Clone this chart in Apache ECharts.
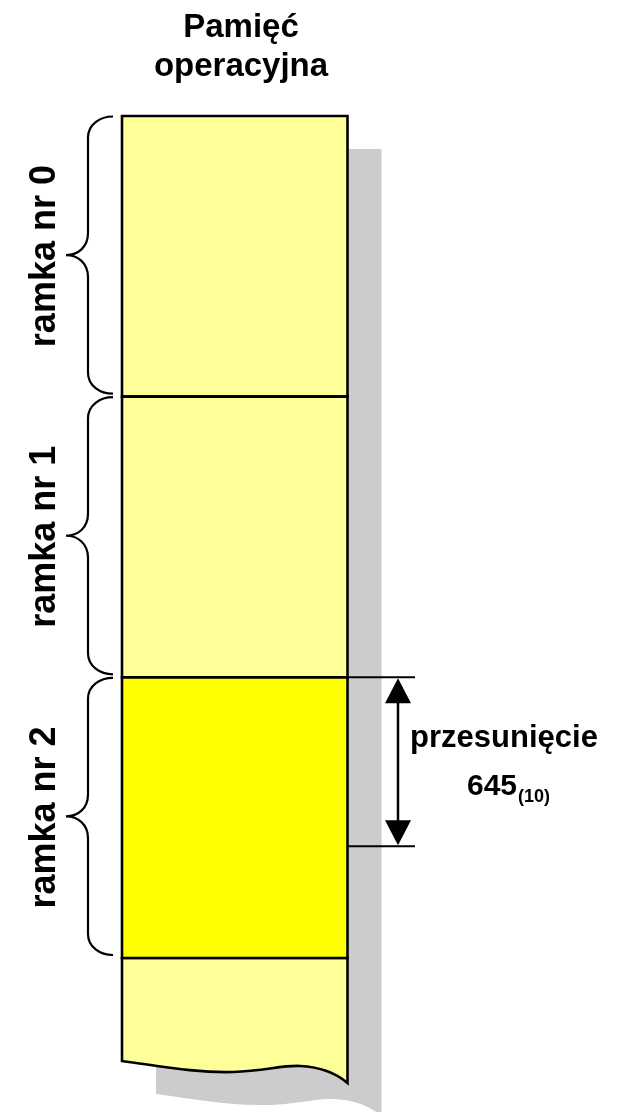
<!DOCTYPE html>
<html><head><meta charset="utf-8">
<script src="https://cdn.jsdelivr.net/npm/echarts@6/dist/echarts.min.js"></script>
<style>html,body{margin:0;padding:0;background:#fff}#c{width:621px;height:1112px}</style>
</head><body><div id="c"></div>
<script>
// ---- data (memory measured in frame units) ----
const titleLines = ['Pamięć', 'operacyjna'];
const frameLabels = ['ramka nr 0', 'ramka nr 1', 'ramka nr 2'];
const frameBounds = [0, 1, 2, 3];
const tailEnd = 3.367;            // visible memory past the last frame
const highlightFrame = 2;
const offsetLabel = 'przesunięcie';
const offsetValue = '645';
const offsetBase = '(10)';
const offsetRange = [0, 0.602];   // offset within highlighted frame (fraction of frame)

// ---- layout / style ----
const FONT = '"Liberation Sans", Arial, sans-serif';
const X0 = 122, X1 = 347.5;
const PX_TOP = 116, PX_FRAME = 280.67, H = 1112;
const yMin = -PX_TOP / PX_FRAME, yMax = (H - PX_TOP) / PX_FRAME;
const SH = [34, 33];

function wave(yb, dx, dy) {
  const p = (x, y) => (x + dx).toFixed(1) + ',' + (y + dy).toFixed(1);
  return ' L' + p(X0, yb) +
    ' C' + p(160, yb + 5) + ' ' + p(195, yb + 12) + ' ' + p(233, yb + 11) +
    ' C' + p(265, yb + 10) + ' ' + p(282, yb + 4) + ' ' + p(300, yb + 5) +
    ' C' + p(320, yb + 6) + ' ' + p(336, yb + 12) + ' ' + p(X1, yb + 22);
}

const chart = echarts.init(document.getElementById('c'));
chart.setOption({
  animation: false,
  backgroundColor: '#fff',
  title: {
    text: titleLines.join('\n'), left: 236, top: 3, textAlign: 'center',
    textStyle: { fontFamily: FONT, fontWeight: 'bold', fontSize: 33, lineHeight: 39, color: '#000' }
  },
  grid: { left: 0, right: 0, top: 0, bottom: 0 },
  xAxis: { type: 'value', min: 0, max: 621, show: false },
  yAxis: { type: 'value', min: yMin, max: yMax, inverse: true, show: false },
  series: [
    { // shadow
      type: 'custom', clip: false, z: 1, data: [[0, tailEnd]],
      renderItem: (params, api) => {
        const top = api.coord([X0, frameBounds[0]])[1];
        const yb = api.coord([X0, api.value(1)])[1];
        const d = 'M' + (X0 + SH[0]) + ',' + (top + SH[1]) + wave(yb, SH[0], SH[1]) +
          ' L' + (X1 + SH[0]) + ',' + (top + SH[1]) + ' Z';
        return { type: 'path', shape: { pathData: d }, style: { fill: '#CCCCCC', stroke: null } };
      }
    },
    { // tail below last frame
      type: 'custom', clip: false, z: 2, data: [[frameBounds[frameBounds.length - 1], tailEnd]],
      renderItem: (params, api) => {
        const top = api.coord([X0, api.value(0)])[1];
        const yb = api.coord([X0, api.value(1)])[1];
        const d = 'M' + X0 + ',' + top + wave(yb, 0, 0) + ' L' + X1 + ',' + top + ' Z';
        return { type: 'path', shape: { pathData: d }, style: { fill: '#FFFF99', stroke: '#000', lineWidth: 2.6, lineJoin: 'miter' } };
      }
    },
    { // frames
      type: 'custom', clip: false, z: 3,
      data: frameLabels.map((l, i) => [frameBounds[i], frameBounds[i + 1], i]),
      renderItem: (params, api) => {
        const a = api.coord([X0, api.value(0)]);
        const b = api.coord([X1, api.value(1)]);
        return { type: 'rect', shape: { x: a[0], y: a[1], width: b[0] - a[0], height: b[1] - a[1] },
          style: { fill: api.value(2) === highlightFrame ? '#FFFF00' : '#FFFF99', stroke: '#000', lineWidth: 2.6 } };
      }
    },
    { // braces + labels
      type: 'custom', clip: false, z: 3,
      data: frameLabels.map((l, i) => [frameBounds[i], frameBounds[i + 1]]),
      renderItem: (params, api) => {
        const T = api.coord([X0, api.value(0)])[1] + 0.5;
        const B = api.coord([X0, api.value(1)])[1] - 3;
        const M = (T + B) / 2;
        const xe = 113, xb = 88, xt = 66;
        const d = 'M' + xe + ',' + T +
          ' C' + (xb + 12) + ',' + T + ' ' + xb + ',' + (T + 8) + ' ' + xb + ',' + (T + 21) +
          ' L' + xb + ',' + (M - 22) +
          ' C' + xb + ',' + (M - 8) + ' ' + (xt + 12) + ',' + M + ' ' + xt + ',' + M +
          ' C' + (xt + 12) + ',' + M + ' ' + xb + ',' + (M + 8) + ' ' + xb + ',' + (M + 22) +
          ' L' + xb + ',' + (B - 21) +
          ' C' + xb + ',' + (B - 8) + ' ' + (xb + 12) + ',' + B + ' ' + xe + ',' + B;
        return { type: 'group', children: [
          { type: 'path', shape: { pathData: d }, style: { fill: null, stroke: '#000', lineWidth: 2.2 } },
          { type: 'text', x: 45, y: M + 1, rotation: Math.PI / 2,
            style: { text: frameLabels[params.dataIndex], font: 'bold 36px ' + FONT, fill: '#000', align: 'center', verticalAlign: 'middle' } }
        ] };
      }
    },
    { // offset arrow
      type: 'custom', clip: false, z: 4,
      data: [[frameBounds[highlightFrame] + offsetRange[0], frameBounds[highlightFrame] + offsetRange[1]]],
      renderItem: (params, api) => {
        const ys = api.coord([X1, api.value(0)])[1];
        const ye = api.coord([X1, api.value(1)])[1];
        const xa = 398, hw = 13, hl = 26;
        const black = { fill: '#000' };
        const mid = (ys + ye) / 2;
        return { type: 'group', children: [
          { type: 'line', shape: { x1: X1, y1: ys, x2: 415, y2: ys }, style: { stroke: '#000', lineWidth: 2 } },
          { type: 'line', shape: { x1: X1, y1: ye, x2: 415, y2: ye }, style: { stroke: '#000', lineWidth: 2 } },
          { type: 'line', shape: { x1: xa, y1: ys + hl - 2, x2: xa, y2: ye - hl + 2 }, style: { stroke: '#000', lineWidth: 2.5 } },
          { type: 'polygon', shape: { points: [[xa, ys + 1], [xa - hw, ys + hl], [xa + hw, ys + hl]] }, style: black },
          { type: 'polygon', shape: { points: [[xa, ye - 1], [xa - hw, ye - hl], [xa + hw, ye - hl]] }, style: black },
          { type: 'text', x: 504, y: mid - 23, style: { text: offsetLabel, font: 'bold 31px ' + FONT, fill: '#000', align: 'center', verticalAlign: 'middle' } },
          { type: 'text', x: 517, y: mid + 25, style: { text: offsetValue, font: 'bold 30px ' + FONT, fill: '#000', align: 'right', verticalAlign: 'middle' } },
          { type: 'text', x: 518, y: mid + 35, style: { text: offsetBase, font: 'bold 18px ' + FONT, fill: '#000', align: 'left', verticalAlign: 'middle' } }
        ] };
      }
    }
  ]
});
</script></body></html>
